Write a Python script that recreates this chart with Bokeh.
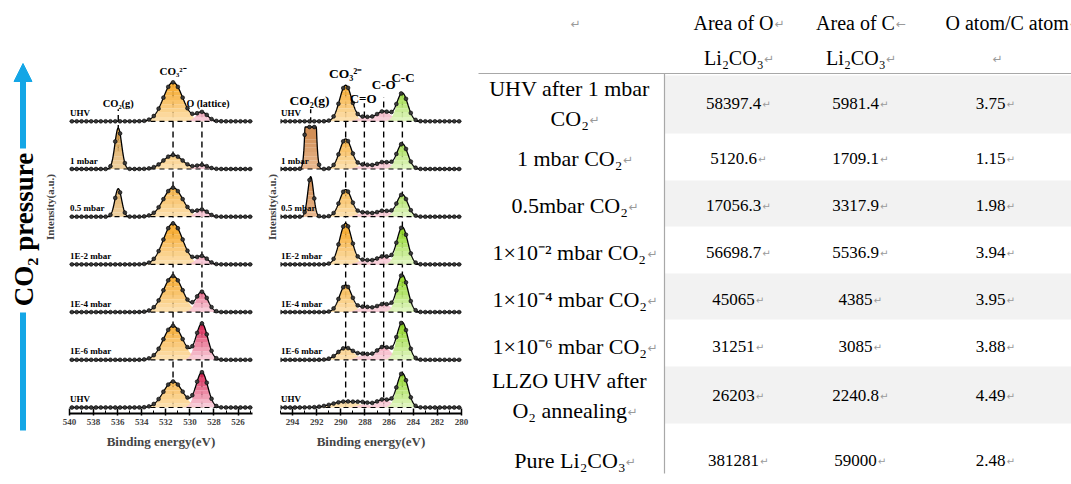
import numpy as np
from bokeh.plotting import figure
from bokeh.layouts import row
from bokeh.models import Range1d, FixedTicker, Arrow, NormalHead
from bokeh.core.properties import value
from bokeh.embed import file_html
from bokeh.resources import INLINE

SERIF = "Liberation Serif"

# ------------------------------------------------------------------ data
trace_labels = ["UHV", "1 mbar", "0.5 mbar", "1E-2 mbar", "1E-4 mbar", "1E-6 mbar", "UHV"]  # top -> bottom

# O 1s fitted components (centre eV, sigma eV, height per trace top->bottom)
o1s_names = ["CO2(g)", "CO3", "O lattice"]
o1s_centers = [535.95, 531.4, 529.0]
o1s_sigmas = [0.28, 0.8, 0.48]
o1s_co2g = [0, 41, 28, 0, 0, 0, 0]
o1s_co3 = [39, 14, 29, 41, 36, 34, 26]
o1s_lattice = [9, 4, 7, 8, 20, 36, 35]

# C 1s fitted components
c1s_names = ["CO2(g)", "CO3", "C=O", "C-O", "C-C"]
c1s_centers = [292.5, 289.6, 288.05, 286.45, 284.9]
c1s_sigmas = [0.24, 0.5, 0.55, 0.6, 0.45]
c1s_co3_sigma = [0.5, 0.5, 0.5, 0.5, 0.5, 0.65, 1.1]
c1s_co2g = [0, 300, 40, 0, 0, 0, 0]
c1s_co3 = [36, 30, 27, 41, 27, 12, 6]
c1s_c_dbl_o = [4, 4, 4, 4, 5, 5, 3]
c1s_c_o = [10, 7, 6, 8, 8, 13, 8]
c1s_cc = [28, 25, 22, 37, 37, 37, 34]
c1s_display_cap = 42

o1s_ticks = [540, 538, 536, 534, 532, 530, 528, 526]
c1s_ticks = [294, 292, 290, 288, 286, 284, 282, 280]

# table
header_1 = ["", "Area of O", "Area of C", "O atom/C atom"]
header_2 = ["", "Li₂CO₃", "Li₂CO₃", ""]
row_labels = [["UHV after 1 mbar", "CO₂"], ["1 mbar CO₂"], ["0.5mbar CO₂"],
              ["1×10⁻² mbar CO₂"], ["1×10⁻⁴ mbar CO₂"], ["1×10⁻⁶ mbar CO₂"],
              ["LLZO UHV after", "O₂ annealing"], ["Pure Li₂CO₃"]]
area_O = [58397.4, 5120.6, 17056.3, 56698.7, 45065, 31251, 26203, 381281]
area_C = [5981.4, 1709.1, 3317.9, 5536.9, 4385, 3085, 2240.8, 59000]
ratio_OC = [3.75, 1.15, 1.98, 3.94, 3.95, 3.88, 4.49, 2.48]

# ------------------------------------------------------------------ styling
CYAN = "#14a6e6"
STEP = 47.7           # vertical offset between stacked spectra
COLOR_SPAN = 34.0     # height over which the gradient goes from light to dark
N_BANDS = 8


def hex2rgb(h):
    h = h.lstrip("#")
    return tuple(int(h[i:i + 2], 16) for i in (0, 2, 4))


def mix(c1, c2, t):
    a, b = hex2rgb(c1), hex2rgb(c2)
    return "#%02x%02x%02x" % tuple(int(round(a[i] + (b[i] - a[i]) * t)) for i in range(3))


def gauss(x, c, s):
    return np.exp(-0.5 * ((x - c) / s) ** 2)


def fill_peak(p, x, base, comp, light, dark, alpha=0.92):
    top = comp.max()
    if top <= 0.3:
        return
    step = COLOR_SPAN / N_BANDS
    for k in range(N_BANDS):
        lo = k * step
        if lo >= top:
            break
        hi = (k + 1) * step if k < N_BANDS - 1 else 1e9
        y2 = base + np.clip(comp, lo, hi)
        y1 = np.full_like(x, base + lo)
        p.varea(x=x, y1=y1, y2=y2, fill_color=mix(light, dark, (k + 0.5) / N_BANDS),
                fill_alpha=alpha)


def make_panel(width, xr, border_left, border_right, standoff, ticks, minor):
    p = figure(width=width, height=484, x_range=Range1d(*xr), y_range=Range1d(-6, 407),
               output_backend="svg", toolbar_location=None,
               min_border_left=border_left, min_border_right=border_right,
               min_border_top=0, min_border_bottom=71, frame_align=False)
    p.grid.visible = False
    p.outline_line_color = None
    p.background_fill_color = "white"
    xa = p.xaxis[0]
    xa.ticker = FixedTicker(ticks=ticks, minor_ticks=minor)
    xa.axis_label = "Binding energy(eV)"
    xa.axis_label_text_font = SERIF
    xa.axis_label_text_font_style = "bold"
    xa.axis_label_text_font_size = "13px"
    xa.axis_label_standoff = 6
    xa.major_label_text_font = SERIF
    xa.major_label_text_font_style = "bold"
    xa.major_label_text_font_size = "9px"
    xa.major_label_standoff = 3
    xa.axis_line_width = 2
    xa.major_tick_in = 5
    xa.major_tick_out = 2
    xa.minor_tick_in = 3
    xa.minor_tick_out = 0
    xa.major_tick_line_width = 1.5
    ya = p.yaxis[0]
    ya.ticker = FixedTicker(ticks=[])
    ya.axis_line_color = None
    ya.major_tick_in = 0
    ya.major_tick_out = 0
    ya.minor_tick_in = 0
    ya.minor_tick_out = 0
    ya.axis_label = "Intensity(a.u.)"
    ya.axis_label_text_font = SERIF
    ya.axis_label_text_font_style = "bold"
    ya.axis_label_text_font_size = "11px"
    ya.axis_label_standoff = standoff
    return p


def draw_traces(p, xr, comps, label_x, label_size="9px"):
    """comps: list of (center, sigma_list, heights, light, dark, cap)"""
    x_fine = np.linspace(xr[0], xr[1], 700)
    x_pts = np.arange(min(xr) + 0.2, max(xr), 0.4)
    n = len(trace_labels)
    for i in range(n):
        base = (n - 1 - i) * STEP
        total_f = np.zeros_like(x_fine)
        total_p = np.zeros_like(x_pts)
        for (c, sig, h, light, dark, cap) in comps:
            comp_f = h[i] * gauss(x_fine, c, sig[i])
            comp_p = h[i] * gauss(x_pts, c, sig[i])
            if cap is not None:
                comp_f = np.minimum(comp_f, cap)
                comp_p = np.minimum(comp_p, cap)
            fill_peak(p, x_fine, base, comp_f, light, dark)
            total_f += comp_f
            total_p += comp_p
        p.line(x=[xr[0], xr[1]], y=[base, base], line_color="black", line_width=1.2,
               line_dash="5 4")
        p.line(x=x_fine, y=base + total_f, line_color="black", line_width=1.3)
        p.scatter(x=x_pts, y=base + total_p, size=3.8, marker="circle",
                  fill_color="#3a3a3a", line_color="black", line_width=0.6)
        p.text(x=[label_x], y=[base + 3.5], text=[trace_labels[i]], text_font=value(SERIF),
               text_font_style="bold", text_font_size=label_size, text_baseline="bottom",
               text_align="left", text_color="black")


def vdash(p, x, y0, y1):
    p.segment(x0=[x], y0=[y0], x1=[x], y1=[y1], line_color="black", line_width=1.4,
              line_dash="6 4")


def peak_label(p, x, y, txt, size):
    p.text(x=[x], y=[y], text=[txt], text_font=value(SERIF), text_font_style="bold",
           text_font_size=size, text_align="center", text_baseline="bottom", text_color="black")


top_base = (len(trace_labels) - 1) * STEP

# ------------------------------------------------------------------ decor (arrow)
d = figure(width=40, height=484, x_range=Range1d(0, 40), y_range=Range1d(484, 0),
           output_backend="svg", toolbar_location=None, min_border=0, frame_align=False)
d.axis.visible = False
d.grid.visible = False
d.outline_line_color = None
d.add_layout(Arrow(end=NormalHead(size=18, fill_color=CYAN, line_color=CYAN, line_width=1),
                   x_start=22.5, y_start=148, x_end=22.5, y_end=63,
                   line_color=CYAN, line_width=6))
d.segment(x0=[22.5], y0=[312], x1=[22.5], y1=[430], line_color=CYAN, line_width=6)
d.text(x=[23.5], y=[229], text=["CO₂ pressure"], angle=np.pi / 2, text_font=value(SERIF),
       text_font_style="bold", text_font_size="27px", text_align="center",
       text_baseline="middle", text_color="black")

# ------------------------------------------------------------------ O 1s panel
o_xr = (540.0, 524.8)
p1 = make_panel(222, o_xr, 27, 10, 14, o1s_ticks, list(range(540, 524, -1)))
o_comps = [
    (o1s_centers[0], [o1s_sigmas[0]] * 7, o1s_co2g, "#efcf9c", "#d59a44", None),
    (o1s_centers[1], [o1s_sigmas[1]] * 7, o1s_co3, "#fde0ae", "#f5a522", None),
    (o1s_centers[2], [o1s_sigmas[2]] * 7, o1s_lattice, "#f9d2dd", "#d8184a", None),
]
vdash(p1, o1s_centers[1], 0, top_base + o1s_co3[0])
vdash(p1, o1s_centers[2], 0, top_base + 8)
vdash(p1, o1s_centers[0], 5 * STEP - 10 + o1s_co2g[2], top_base + 12)
draw_traces(p1, o_xr, o_comps, 539.95)
peak_label(p1, o1s_centers[0], top_base + 12, "CO₂(g)", "10.5px")
peak_label(p1, o1s_centers[1], top_base + 44, "CO₃²⁻", "11px")
peak_label(p1, 528.5, top_base + 12, "O (lattice)", "10px")

# ------------------------------------------------------------------ C 1s panel
c_xr = (295.0, 280.0)
p2 = make_panel(208, c_xr, 12, 9, 3, c1s_ticks, list(range(295, 279, -1)))
c_comps = [
    (c1s_centers[0], [c1s_sigmas[0]] * 7, c1s_co2g, "#e8b488", "#cc8446", c1s_display_cap),
    (c1s_centers[1], c1s_co3_sigma, c1s_co3, "#fde0ae", "#f5a522", None),
    (c1s_centers[2], [c1s_sigmas[2]] * 7, c1s_c_dbl_o, "#fad2dc", "#ec6a8c", None),
    (c1s_centers[3], [c1s_sigmas[3]] * 7, c1s_c_o, "#fad2dc", "#ec6a8c", None),
    (c1s_centers[4], [c1s_sigmas[4]] * 7, c1s_cc, "#e2f6c4", "#88d418", None),
]
vdash(p2, c1s_centers[1], 0, top_base + c1s_co3[0])
vdash(p2, c1s_centers[2], 0, top_base + 18)
vdash(p2, c1s_centers[3], 0, top_base + 24)
vdash(p2, c1s_centers[4], 0, top_base + c1s_cc[0])
vdash(p2, c1s_centers[0], top_base - 2, top_base + 12)
draw_traces(p2, c_xr, c_comps, 294.95)
peak_label(p2, c1s_centers[0] + 0.1, top_base + 13, "CO₂(g)", "13.5px")
peak_label(p2, c1s_centers[1], top_base + 40, "CO₃²⁻", "13.5px")
peak_label(p2, c1s_centers[2] + 0.1, top_base + 15, "C=O", "13px")
peak_label(p2, c1s_centers[3], top_base + 29, "C-O", "13px")
peak_label(p2, c1s_centers[4] - 0.05, top_base + 36, "C-C", "13px")

# ------------------------------------------------------------------ table
t = figure(width=601, height=484, x_range=Range1d(470, 1071), y_range=Range1d(484, 0),
           output_backend="svg", toolbar_location=None, min_border=0, frame_align=False)
t.axis.visible = False
t.grid.visible = False
t.outline_line_color = None

W = {" ": .25, ".": .25, "×": .564, "-": .333, "/": .278, "(": .333, ")": .333,
     "A": .722, "C": .667, "H": .722, "L": .611, "O": .722, "P": .556, "U": .722,
     "V": .722, "Z": .611, "a": .444, "b": .5, "c": .444, "e": .444, "f": .333,
     "g": .5, "h": .5, "i": .278, "l": .278, "m": .778, "n": .5, "o": .5, "p": .5,
     "r": .333, "t": .278, "u": .5, "₂": .33, "₃": .33, "⁻": .33, "²": .33, "⁴": .33, "⁶": .33}


def twidth(s, fs):
    return sum(W.get(ch, .5) for ch in s) * fs


def cell(x_center, y, s, fs, mark="↵", align="center"):
    w = twidth(s, fs) if s else 0
    xl = x_center - (w + 10) / 2 if align == "center" else x_center
    if s:
        t.text(x=[xl], y=[y], text=[s], text_font=value(SERIF), text_font_size=f"{fs}px",
               text_align="left", text_baseline="middle", text_color="black")
    t.text(x=[xl + w + 1], y=[y + 1], text=[mark], text_font=value("DejaVu Sans"),
           text_font_size=f"{min(fs * 0.6, 12):.1f}px", text_align="left",
           text_baseline="middle", text_color="#9a9a9a")


DIVIDER_X = 664
shade_bands = [(75, 133), (180, 226), (273, 319), (366, 423)]
for (y0, y1) in shade_bands:
    t.quad(left=[DIVIDER_X], right=[1071], top=[y0], bottom=[y1], fill_color="#f2f2f2",
           line_color=None)
t.segment(x0=[478], y0=[73], x1=[1071], y1=[73], line_color="#a8a8a8", line_width=1.2)
t.segment(x0=[DIVIDER_X], y0=[73], x1=[DIVIDER_X], y1=[473], line_color="#a8a8a8",
          line_width=1.2)

col_x = [574, 738, 860, 995]
LAB_FS = 22
NUM_FS = 17
HEAD_FS = 20
cell(col_x[0], 22, header_1[0], HEAD_FS)
cell(col_x[1], 22, header_1[1], HEAD_FS)
cell(col_x[2], 22, header_1[2], HEAD_FS, "←")
cell(945, 22, header_1[3], HEAD_FS, align="left")
cell(col_x[1], 57, header_2[1], HEAD_FS)
cell(col_x[2], 57, header_2[2], HEAD_FS)
cell(996, 57, header_2[3], HEAD_FS)

row_y = [103, 158, 205, 252, 299, 346, 395, 460]
for i, lab in enumerate(row_labels):
    y = row_y[i]
    if len(lab) == 2:
        t.text(x=[col_x[0] - 5], y=[y - 15], text=[lab[0]], text_font=value(SERIF),
               text_font_size=f"{LAB_FS}px", text_align="center", text_baseline="middle",
               text_color="black")
        cell(col_x[0], y + 15, lab[1], LAB_FS)
    else:
        cell(col_x[0], y, lab[0], LAB_FS)
    cell(col_x[1], y, str(area_O[i]), NUM_FS)
    cell(col_x[2], y, str(area_C[i]), NUM_FS)
    cell(col_x[3], y, str(ratio_OC[i]), NUM_FS)

layout = row(d, p1, p2, t, spacing=0)
open("out.html", "w").write(file_html(layout, INLINE))
